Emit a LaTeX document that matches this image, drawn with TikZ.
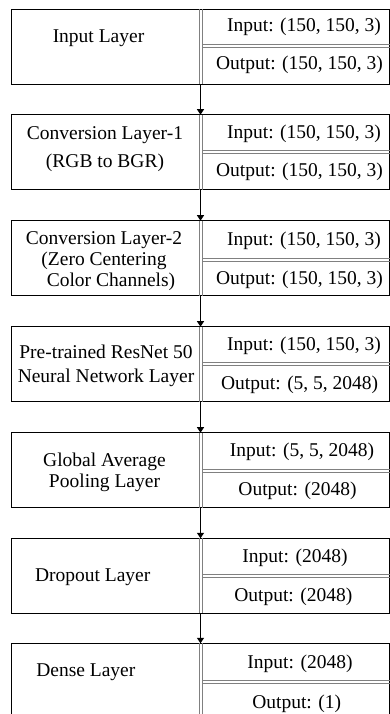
\documentclass[tikz,border=0pt]{standalone}
\usepackage{fontspec}
\setmainfont{Liberation Serif}
\usetikzlibrary{arrows.meta,calc}

% stacked lines whose baseline is the first line's baseline
\newcommand\stackedlines[1]{\begin{tabular}[t]{@{}c@{}}#1\end{tabular}}

% one layer: #1 name, #2 top edge, #3 offset of the row split below the top
\newcommand\layerframe[3]{%
  \node[layerbox, anchor=north west] (#1) at (11.5,#2) {};
  \draw[cellrule] ($(#1.north west)+(187.8,0)$) -- ($(#1.south west)+(187.8,0)$);
  \draw[cellrule] ($(#1.north west)+(190.8,0)$) -- ($(#1.south west)+(190.8,0)$);
  \draw[cellrule] ($(#1.north west)+(190.8,#3)$) -- ($(#1.north east)+(0,#3)$);
  \draw[cellrule] ($(#1.north west)+(190.8,#3+3)$) -- ($(#1.north east)+(0,#3+3)$);
}

\begin{document}
\begin{tikzpicture}[x=1pt,y=-1pt,
  every node/.style={inner sep=0pt, outer sep=0pt, font=\fontsize{19.5}{21}\selectfont},
  layerbox/.style={draw=black, line width=1.3pt, minimum width=378pt, minimum height=75pt},
  cellrule/.style={draw=black!50, line width=0.8pt},
  flow/.style={draw=black, line width=1.3pt, -{Triangle[length=5.5pt,width=7pt]}},
  lname/.style={anchor=base},
  dimtext/.style={anchor=base}]
\useasboundingbox (0,0) rectangle (390,714);

% frames of the seven layers
\layerframe{b1}{9.3}{35}
\layerframe{b2}{114.7}{35.5}
\layerframe{b3}{220.7}{37.5}
\layerframe{b4}{326.7}{36}
\layerframe{b5}{432.7}{36.5}
\layerframe{b6}{538.3}{36.5}
\layerframe{b7}{643.3}{36.7}

% layer names
\node[lname] (n1) at (98.5,42.7) {Input Layer};
\node[lname] (n2) at (105,140) {\stackedlines{Conversion Layer-1\\[6.5pt](RGB to BGR)}};
\node[lname] (n3) at (104,244) {\stackedlines{Conversion Layer-2\\(Zero Centering\\\hspace*{14pt}Color Channels)}};
\node[lname] (n4) at (106,358.3) {\stackedlines{Pre-trained ResNet 50\\[3.4pt]Neural Network Layer}};
\node[lname] (n5) at (104.5,466) {\stackedlines{Global Average\\Pooling Layer}};
\node[lname] (n6) at (92.7,581) {Dropout Layer};
\node[lname] (n7) at (85.8,676.7) {Dense Layer};

% input and output shapes
\node[dimtext] (i1) at (304,32) {Input: (150, 150, 3)};
\node[dimtext] (o1) at (299.5,70) {Output: (150, 150, 3)};
\node[dimtext] (i2) at (304,138.5) {Input: (150, 150, 3)};
\node[dimtext] (o2) at (299.5,176) {Output: (150, 150, 3)};
\node[dimtext] (i3) at (304,245) {Input: (150, 150, 3)};
\node[dimtext] (o3) at (299.5,284) {Output: (150, 150, 3)};
\node[dimtext] (i4) at (304,350.5) {Input: (150, 150, 3)};
\node[dimtext] (o4) at (299.7,389) {Output: (5, 5, 2048)};
\node[dimtext] (i5) at (302,456.5) {Input: (5, 5, 2048)};
\node[dimtext] (o5) at (297.5,495) {Output: (2048)};
\node[dimtext] (i6) at (295,562.5) {Input: (2048)};
\node[dimtext] (o6) at (293.3,601) {Output: (2048)};
\node[dimtext] (i7) at (300,668.5) {Input: (2048)};
\node[dimtext] (o7) at (296.7,708) {Output: (1)};

% data flow between layers
\draw[flow] (b1.south) -- (b2.north);
\draw[flow] (b2.south) -- (b3.north);
\draw[flow] (b3.south) -- (b4.north);
\draw[flow] (b4.south) -- (b5.north);
\draw[flow] (b5.south) -- (b6.north);
\draw[flow] (b6.south) -- (b7.north);
\end{tikzpicture}
\end{document}
